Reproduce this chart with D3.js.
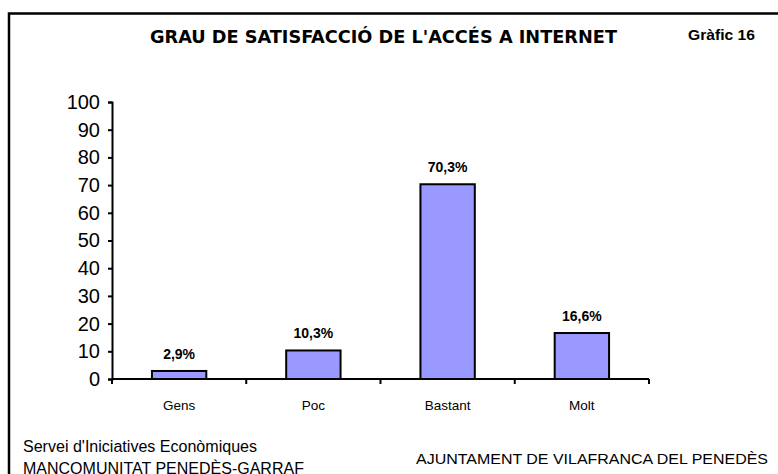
<!DOCTYPE html>
<html>
<head>
<meta charset="utf-8">
<script src="https://cdn.jsdelivr.net/npm/d3@7"></script>
<style>
  body { margin: 0; background: #fff; }
  svg { display: block; font-family: Arial, "Liberation Sans", sans-serif; }
</style>
</head>
<body>
<script>
// chart data
const categories = ['Gens', 'Poc', 'Bastant', 'Molt'];
const values = [2.9, 10.3, 70.3, 16.6];
const valueLabels = ['2,9%', '10,3%', '70,3%', '16,6%'];
const yTicks = [0, 10, 20, 30, 40, 50, 60, 70, 80, 90, 100];

const W = 778, H = 474;
const margin = { left: 112, right: 129, top: 102, bottom: 95 };

const svg = d3.select('body').append('svg')
    .attr('width', W)
    .attr('height', H);

// frame (open at bottom / right, as in the cropped original)
svg.append('path')
    .attr('d', `M9,${H + 5} L9,13.5 L${W + 5},13.5`)
    .attr('fill', 'none')
    .attr('stroke', '#000')
    .attr('stroke-width', 2.5);

svg.append('text')
    .attr('x', 150)
    .attr('y', 43)
    .attr('font-family', '"DejaVu Sans Condensed", "DejaVu Sans", sans-serif')
    .attr('font-size', 18)
    .attr('font-weight', 'bold')
    .attr('textLength', 467)
    .attr('lengthAdjust', 'spacingAndGlyphs')
    .text("GRAU DE SATISFACCIÓ DE L'ACCÉS A INTERNET");

svg.append('text')
    .attr('x', 688)
    .attr('y', 40)
    .attr('font-size', 15)
    .attr('font-weight', 'bold')
    .attr('textLength', 67)
    .attr('lengthAdjust', 'spacingAndGlyphs')
    .text('Gràfic 16');

const x = d3.scaleBand()
    .domain(categories)
    .range([margin.left, W - margin.right])
    .padding(0);

const y = d3.scaleLinear()
    .domain([0, 100])
    .range([H - margin.bottom, margin.top]);

const barW = x.bandwidth() * 0.405;

// bars
svg.selectAll('rect.bar')
    .data(values)
    .join('rect')
    .attr('class', 'bar')
    .attr('x', (d, i) => x(categories[i]) + x.bandwidth() / 2 - barW / 2)
    .attr('y', d => y(d))
    .attr('width', barW)
    .attr('height', d => y(0) - y(d))
    .attr('fill', '#9999ff')
    .attr('stroke', '#000')
    .attr('stroke-width', 2);

svg.selectAll('text.vlab')
    .data(values)
    .join('text')
    .attr('class', 'vlab')
    .attr('x', (d, i) => x(categories[i]) + x.bandwidth() / 2)
    .attr('y', d => y(d) - 12)
    .attr('text-anchor', 'middle')
    .attr('font-size', 14)
    .attr('font-weight', 'bold')
    .text((d, i) => valueLabels[i]);

// y axis
const yAxis = svg.append('g')
    .attr('transform', `translate(${margin.left},0)`)
    .call(d3.axisLeft(y).tickValues(yTicks).tickSize(4).tickPadding(8).tickFormat(d3.format('d')));
yAxis.select('.domain').attr('stroke-width', 2);
yAxis.selectAll('.tick line').attr('stroke-width', 2);
yAxis.selectAll('.tick text')
    .attr('font-size', 20)
    .attr('font-family', 'Arial, "Liberation Sans", sans-serif')
    .attr('fill', '#000');

// x axis: ticks at category boundaries
const xBase = y(0);
svg.append('line')
    .attr('x1', margin.left).attr('x2', W - margin.right)
    .attr('y1', xBase).attr('y2', xBase)
    .attr('stroke', '#000').attr('stroke-width', 2);

const edges = categories.map(c => x(c)).concat([x(categories[categories.length - 1]) + x.bandwidth()]);
svg.selectAll('line.xtick')
    .data(edges)
    .join('line')
    .attr('class', 'xtick')
    .attr('x1', d => d).attr('x2', d => d)
    .attr('y1', xBase).attr('y2', xBase + 5)
    .attr('stroke', '#000').attr('stroke-width', 2);

svg.selectAll('text.cat')
    .data(categories)
    .join('text')
    .attr('class', 'cat')
    .attr('x', d => x(d) + x.bandwidth() / 2)
    .attr('y', xBase + 31)
    .attr('text-anchor', 'middle')
    .attr('font-size', 13.5)
    .text(d => d);

// footer
svg.append('text')
    .attr('x', 23).attr('y', 452)
    .attr('font-size', 16)
    .attr('textLength', 234)
    .attr('lengthAdjust', 'spacingAndGlyphs')
    .text("Servei d'Iniciatives Econòmiques");

svg.append('text')
    .attr('x', 23).attr('y', 474)
    .attr('font-size', 16)
    .text('MANCOMUNITAT PENEDÈS-GARRAF');

svg.append('text')
    .attr('x', 416).attr('y', 464)
    .attr('font-size', 15.5)
    .attr('textLength', 352)
    .attr('lengthAdjust', 'spacingAndGlyphs')
    .text('AJUNTAMENT DE VILAFRANCA DEL PENEDÈS');
</script>
</body>
</html>
